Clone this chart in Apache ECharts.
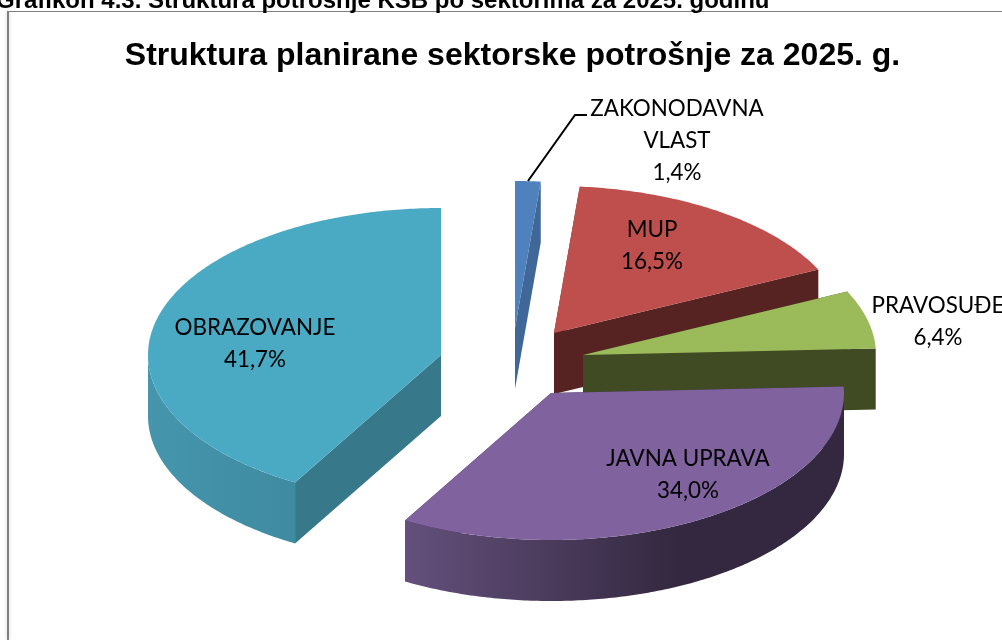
<!DOCTYPE html>
<html>
<head>
<meta charset="utf-8">
<style>html,body{margin:0;padding:0;background:#fff;overflow:hidden}#c{width:1002px;height:640px}</style>
<script src="https://cdn.jsdelivr.net/npm/echarts@6/dist/echarts.min.js"></script>
</head>
<body>
<div id="c"></div>
<script>
// ---- data ----
const heading = 'Grafikon 4.3. Struktura potrošnje KSB po sektorima za 2025. godinu';
const chartTitle = 'Struktura planirane sektorske potrošnje za 2025. g.';
const categories = ['ZAKONODAVNA\nVLAST', 'MUP', 'PRAVOSUĐE', 'JAVNA UPRAVA', 'OBRAZOVANJE'];
const shares = [1.4, 16.5, 6.4, 34.0, 41.7];

// ---- appearance ----
const topColors = ['#4F81BD', '#BE4F4C', '#9BBA59', '#7F629E', '#4AAAC4'];
const faceColors = ['#3F6797', '#572322', '#404B24', '#35283F', '#37798A'];
const wallStops = [
  ['#3F6797', '#3F6797'], ['#572322', '#572322'], ['#404B24', '#404B24'],
  ['#64507C', '#33283F'], ['#4596AD', '#3E8AA1']
];
const wallRange = [[0, 1], [0, 1], [0, 1], [405, 680], [148, 296]];
const sliceCentres = [[515, 328], [554, 333], [583, 355], [551, 393], [441, 355]];
const labelCentres = [[677, 141], [652, 246], [938, 322], [688, 475], [255, 344]];
const RX = 293, RY = 147, DEPTH = 61;

const total = shares.reduce((a, b) => a + b, 0);
const starts = [];
shares.reduce((acc, v, i) => { starts[i] = acc; return acc + v; }, 0);
const pt = (c, deg, dy) => {
  const r = deg * Math.PI / 180;
  return [c[0] + RX * Math.sin(r), c[1] - RY * Math.cos(r) + (dy || 0)];
};
const arc = (c, a, b, dy) => {
  const n = Math.max(2, Math.ceil(Math.abs(b - a) * 1.5));
  const out = [];
  for (let i = 0; i <= n; i++) out.push(pt(c, a + (b - a) * i / n, dy));
  return out;
};
const fmt = v => v.toFixed(1).replace('.', ',') + '%';

function renderSlice(params, api) {
  const i = params.dataIndex;
  const value = api.value(0);
  const a = starts[i] / total * 360;
  const b = a + value / total * 360;
  const c = sliceCentres[i];
  const kids = [];
  const poly = (points, fill, z2) => ({ type: 'polygon', z2: z2 || 0, shape: { points }, style: { fill } , silent: true});
  // cut faces
  [a, b].forEach(t => {
    const e = pt(c, t);
    kids.push(poly([c, e, [e[0], e[1] + DEPTH], [c[0], c[1] + DEPTH]], faceColors[i]));
  });
  // curved outer wall, only the part facing the viewer
  const w0 = Math.max(a, 90), w1 = Math.min(b, 270);
  if (w1 > w0) {
    const upper = arc(c, w0, w1, 0);
    const lower = arc(c, w1, w0, DEPTH);
    const rng = wallRange[i];
    kids.push({
      type: 'polygon', shape: { points: upper.concat(lower) }, silent: true,
      style: {
        fill: new echarts.graphic.LinearGradient(rng[0], 0, rng[1], 0,
          [{ offset: 0, color: wallStops[i][0] }, { offset: 1, color: wallStops[i][1] }], true)
      }
    });
  }
  // top surface
  kids.push(poly([c].concat(arc(c, a, b, 0)), topColors[i], 1));
  // label
  kids.push({
    type: 'text', z2: 10, silent: true,
    style: {
      text: categories[i] + '\n' + fmt(value),
      x: labelCentres[i][0], y: labelCentres[i][1],
      align: 'center', verticalAlign: 'middle',
      fontFamily: 'Lato', fontSize: 22.4, lineHeight: 32, fill: '#000'
    }
  });
  return { type: 'group', children: kids };
}

const chart = echarts.init(document.getElementById('c'), null, { renderer: 'canvas' });
chart.setOption({
  animation: false,
  backgroundColor: '#fff',
  title: [
    { text: heading, left: -9, top: -16, textStyle: { fontFamily: 'Liberation Sans', fontWeight: 'bold', fontSize: 24, color: '#000' } },
    { text: chartTitle, left: 507.5, top: 35, textAlign: 'center', textStyle: { fontFamily: 'Liberation Sans', fontWeight: 'bold', fontSize: 32, color: '#000' } }
  ],
  graphic: [
    { type: 'line', z: 6, silent: true, shape: { x1: 8, y1: 11, x2: 8, y2: 640 },
      style: { stroke: '#7f7f7f', lineWidth: 2, shadowBlur: 4, shadowColor: 'rgba(0,0,0,0.18)' } },
    { type: 'line', z: 6, silent: true, shape: { x1: 7, y1: 11.5, x2: 1002, y2: 11.5 },
      style: { stroke: '#7f7f7f', lineWidth: 1.2 } },
    { type: 'polyline', z: 5, silent: true, shape: { points: [[528, 181], [575, 115], [587, 115]] },
      style: { fill: null, stroke: '#000', lineWidth: 2 } }
  ],
  series: [{
    type: 'custom',
    coordinateSystem: 'none',
    renderItem: renderSlice,
    data: shares.map(v => [v])
  }]
});
</script>
</body>
</html>
